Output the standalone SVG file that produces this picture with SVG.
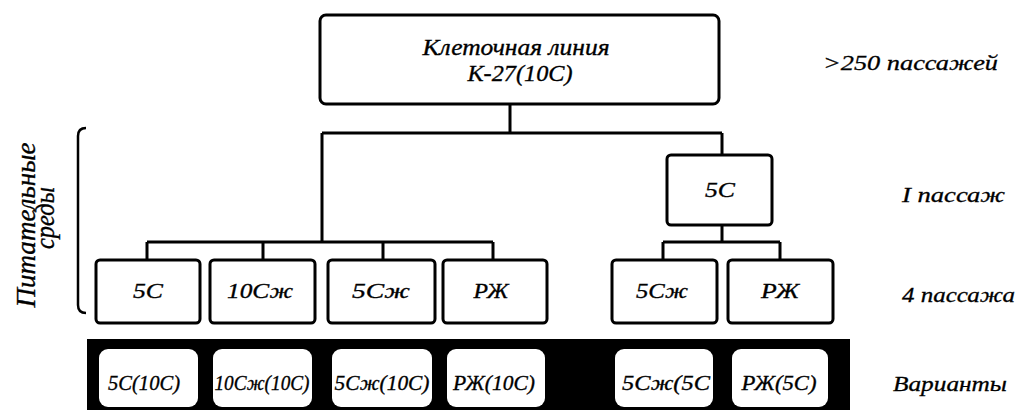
<svg xmlns="http://www.w3.org/2000/svg" width="1020" height="412" viewBox="0 0 1020 412" font-family="Liberation Serif, Times New Roman, serif" font-style="italic">
<style>
.box{fill:#fff;stroke:#000;stroke-width:3}
.t{font-size:22px;fill:#000;stroke:#000;stroke-width:0.35;text-anchor:middle}
.lbl{font-size:21px;fill:#000;stroke:#000;stroke-width:0.3}
.big{font-size:24px}
.vt{font-size:28px}
.vb{fill:#fff}
.conn{fill:none;stroke:#000;stroke-width:3}
</style>
<rect width="1020" height="412" fill="#fff"/>
<g id="connectors" class="conn">
<path d="M510,104 V133 M322,133 H722 M322,133 V242 M147,242 H493 M147,242 V260 M263,242 V260 M383,242 V260 M493,242 V260 M722,133 V155 M722,225 V242 M663,242 H780 M663,242 V260 M780,242 V260"/>
</g>
<g id="root">
<rect class="box" x="320" y="15" width="399" height="89" rx="6"/>
<text class="t big" x="516" y="55" textLength="187" lengthAdjust="spacingAndGlyphs">Клеточная линия</text>
<text class="t big" x="520" y="81" textLength="105" lengthAdjust="spacingAndGlyphs">К-27(10С)</text>
</g>
<g id="n5C_1p">
<rect class="box" x="667" y="155" width="105" height="70" rx="4"/>
<text class="t" x="720" y="197" textLength="30" lengthAdjust="spacingAndGlyphs">5С</text>
</g>
<g id="n5C">
<rect class="box" x="96" y="260" width="104" height="63" rx="4"/>
<text class="t" x="148" y="298" textLength="30" lengthAdjust="spacingAndGlyphs">5С</text>
</g>
<g id="n10Czh">
<rect class="box" x="210" y="260" width="105" height="63" rx="4"/>
<text class="t" x="260" y="298" textLength="66" lengthAdjust="spacingAndGlyphs">10Сж</text>
</g>
<g id="n5Czh">
<rect class="box" x="328" y="260" width="107" height="63" rx="4"/>
<text class="t" x="381" y="298" textLength="58" lengthAdjust="spacingAndGlyphs">5Сж</text>
</g>
<g id="nRZh">
<rect class="box" x="443" y="260" width="104" height="63" rx="4"/>
<text class="t" x="491" y="298" textLength="35" lengthAdjust="spacingAndGlyphs">РЖ</text>
</g>
<g id="n5Czh_b">
<rect class="box" x="612" y="260" width="105" height="63" rx="4"/>
<text class="t" x="662" y="298" textLength="52" lengthAdjust="spacingAndGlyphs">5Сж</text>
</g>
<g id="nRZh_b">
<rect class="box" x="728" y="260" width="105" height="63" rx="4"/>
<text class="t" x="780" y="298" textLength="38" lengthAdjust="spacingAndGlyphs">РЖ</text>
</g>
<g id="variants">
<rect x="87" y="339" width="763" height="71" fill="#000"/>
<rect class="vb" x="99" y="349" width="99" height="58" rx="9"/>
<rect class="vb" x="213" y="349" width="99" height="58" rx="9"/>
<rect class="vb" x="332" y="349" width="100" height="58" rx="9"/>
<rect class="vb" x="447" y="349" width="98" height="58" rx="9"/>
<rect class="vb" x="615" y="349" width="98" height="58" rx="9"/>
<rect class="vb" x="732" y="349" width="96" height="58" rx="9"/>
<text class="t" x="144" y="390" textLength="72" lengthAdjust="spacingAndGlyphs">5С(10С)</text>
<text class="t" x="262" y="390" textLength="95" lengthAdjust="spacingAndGlyphs">10Сж(10С)</text>
<text class="t" x="382" y="390" textLength="95" lengthAdjust="spacingAndGlyphs">5Сж(10С)</text>
<text class="t" x="494" y="390" textLength="82" lengthAdjust="spacingAndGlyphs">РЖ(10С)</text>
<text class="t" x="666" y="390" textLength="88" lengthAdjust="spacingAndGlyphs">5Сж(5С</text>
<text class="t" x="779" y="390" textLength="75" lengthAdjust="spacingAndGlyphs">РЖ(5С)</text>
</g>
<g id="labels">
<text class="lbl" x="823" y="70" textLength="175" lengthAdjust="spacingAndGlyphs">&gt;250  пассажей</text>
<text class="lbl" x="902" y="202" textLength="103" lengthAdjust="spacingAndGlyphs">I пассаж</text>
<text class="lbl" x="902" y="302" textLength="113" lengthAdjust="spacingAndGlyphs">4 пассажа</text>
<text class="lbl" x="893" y="391" textLength="114" lengthAdjust="spacingAndGlyphs">Варианты</text>
</g>
<g id="media">
<path d="M86,128 Q78,128 78,136 V305 Q78,313 86,313" fill="none" stroke="#000" stroke-width="2.5"/>
<text class="t vt" transform="translate(35,225) rotate(-90)" textLength="165" lengthAdjust="spacingAndGlyphs">Питательные</text>
<text class="t vt" transform="translate(54,218) rotate(-90)" textLength="62" lengthAdjust="spacingAndGlyphs">среды</text>
</g>
</svg>
